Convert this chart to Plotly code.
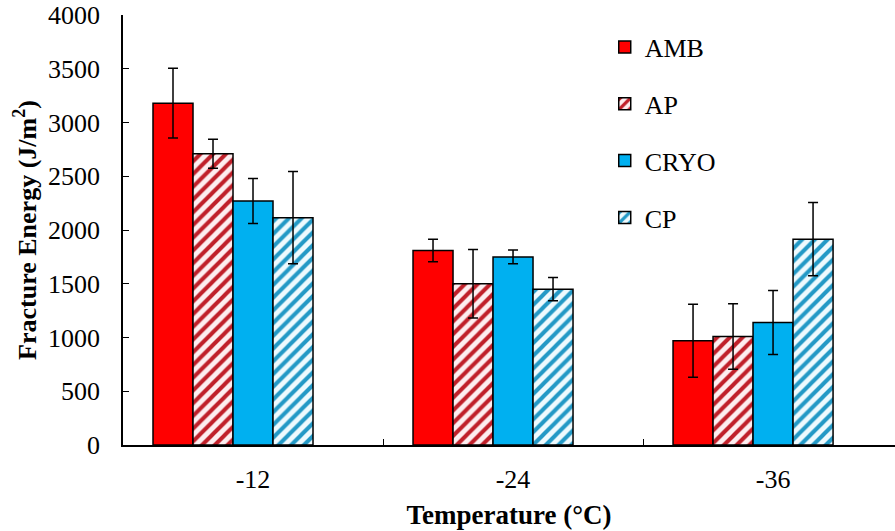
import plotly.graph_objects as go

categories = ["-12", "-24", "-36"]
series_names = ["AMB", "AP", "CRYO", "CP"]
amb = [3180, 1810, 970]
amb_err = [325, 105, 340]
ap = [2710, 1500, 1010]
ap_err = [135, 318, 305]
cryo = [2270, 1750, 1140]
cryo_err = [210, 64, 298]
cp = [2115, 1450, 1915]
cp_err = [430, 108, 340]

values = [amb, ap, cryo, cp]
errors = [amb_err, ap_err, cryo_err, cp_err]

colors = ["#FF0000", "#FFFFFF", "#00B0F0", "#FFFFFF"]
patterns = [None,
            dict(shape="/", fgcolor="#C0202A", bgcolor="#FDEEF0", size=9, solidity=0.45, fgopacity=1),
            None,
            dict(shape="/", fgcolor="#2399C6", bgcolor="#EEFAFE", size=9, solidity=0.45, fgopacity=1)]

bar_w = 40 / 260
start = -100 / 260

FONT = "Liberation Serif"

fig = go.Figure()
for i, name in enumerate(series_names):
    marker = dict(color=colors[i], line=dict(color="black", width=1.5))
    if patterns[i] is not None:
        marker["pattern"] = patterns[i]
    fig.add_trace(go.Bar(
        x=categories, y=values[i], name=name,
        width=bar_w, offset=start + i * bar_w,
        marker=marker,
        error_y=dict(type="data", array=errors[i], color="black", thickness=1.5, width=5),
        legendgroup=name,
    ))

fig.update_layout(
    width=895, height=531,
    margin=dict(l=123, r=0, t=15, b=86),
    barmode="overlay",
    plot_bgcolor="white", paper_bgcolor="white",
    font=dict(family=FONT, size=26, color="black"),
    legend=dict(x=0.624, y=0.98, xanchor="left", yanchor="top",
                font=dict(family=FONT, size=26), tracegroupgap=20,
                bgcolor="rgba(0,0,0,0)"),
    xaxis=dict(type="category", range=[-0.5, 2.469], showline=True, linecolor="black", linewidth=1.5,
               ticks="inside", tickson="boundaries", ticklen=6, tickcolor="black",
               tickfont=dict(family=FONT, size=26), ticklabelstandoff=10,
               title=dict(text="<b>Temperature (°C)</b>", font=dict(family=FONT, size=27), standoff=12),
               showgrid=False, zeroline=False),
    yaxis=dict(range=[0, 4000], dtick=500, showline=True, linecolor="black", linewidth=1.5,
               ticks="inside", ticklen=6, tickcolor="black",
               tickfont=dict(family=FONT, size=26), ticklabelstandoff=16,
               title=dict(text="<b>Fracture Energy (J/m<sup>2</sup>)</b>", font=dict(family=FONT, size=26), standoff=4),
               showgrid=False, zeroline=False),
)

fig.write_html("out.html")
